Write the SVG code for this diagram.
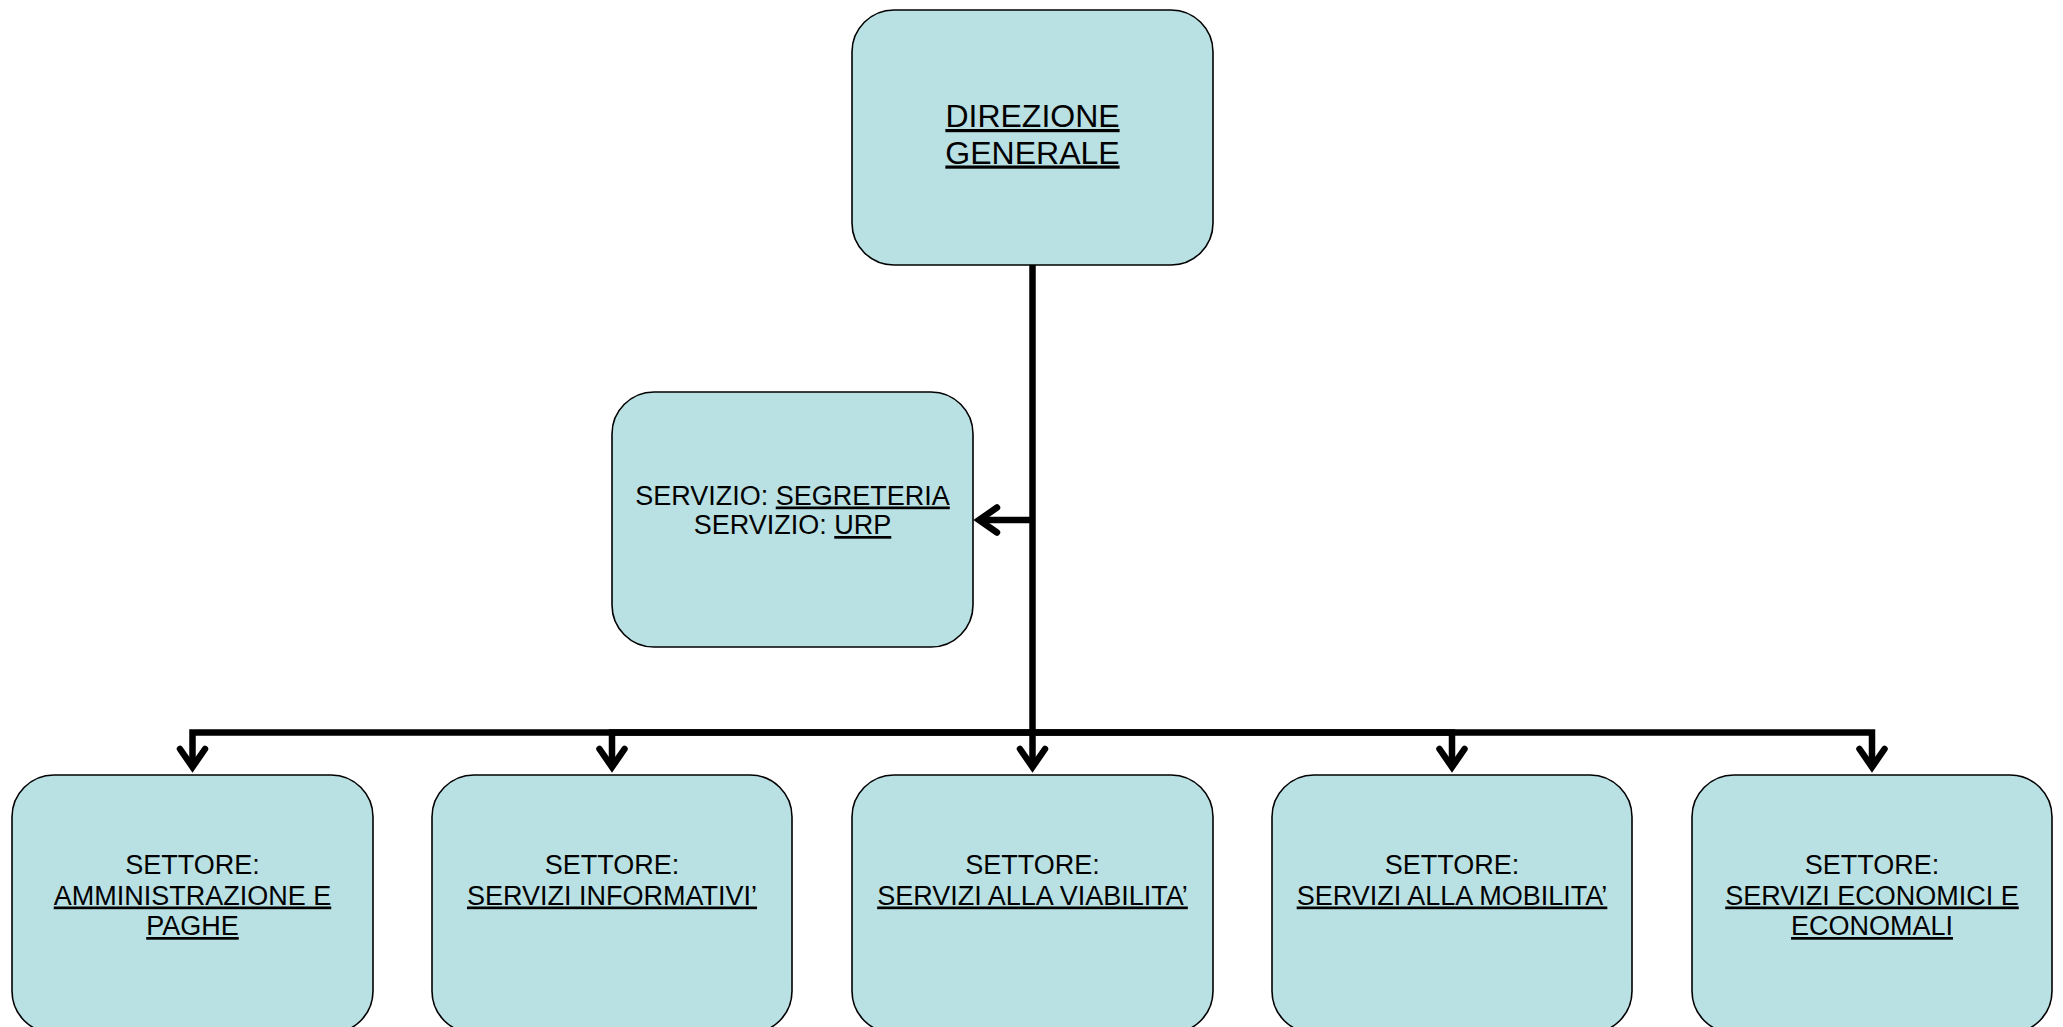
<svg xmlns="http://www.w3.org/2000/svg" width="2063" height="1027" viewBox="0 0 2063 1027">
<style>
.box{fill:#B9E0E3;stroke:#000;stroke-width:1.6}
.t{font-family:"Liberation Sans",Arial,sans-serif;font-size:27px;fill:#000;text-anchor:middle}
.big{font-size:32px}
.u{text-decoration:underline}
.c{fill:none;stroke:#000;stroke-width:6.5;stroke-linejoin:miter}
</style>
<defs>
<marker id="arr" markerUnits="userSpaceOnUse" viewBox="-25 -17 34 34" markerWidth="34" markerHeight="34" refX="0" refY="0" orient="auto" overflow="visible">
<path d="M-18 -12.5 L0 0 L-18 12.5" fill="none" stroke="#000" stroke-width="6.5" stroke-linecap="round" stroke-linejoin="miter"/>
</marker>
</defs>
<rect width="2063" height="1027" fill="#fff"/>
<g id="connectors">
<path class="c" d="M1032.5 265 V767" marker-end="url(#arr)"/>
<path class="c" d="M1032.5 732.5 H192.5 V767" marker-end="url(#arr)"/>
<path class="c" d="M1032.5 732.5 H612 V767" marker-end="url(#arr)"/>
<path class="c" d="M1032.5 732.5 H1452 V767" marker-end="url(#arr)"/>
<path class="c" d="M1032.5 732.5 H1872 V767" marker-end="url(#arr)"/>
<path class="c" d="M1032.5 520 H979" marker-end="url(#arr)"/>
</g>
<g id="direzione">
<rect class="box" x="852" y="10" width="361" height="255" rx="42" ry="42"/>
<text class="t big u" x="1032.5" y="127">DIREZIONE</text>
<text class="t big u" x="1032.5" y="163.5">GENERALE</text>
</g>
<g id="servizi">
<rect class="box" x="612" y="392" width="361" height="255" rx="42" ry="42"/>
<text class="t" x="792.5" y="504.5">SERVIZIO: <tspan class="u">SEGRETERIA</tspan></text>
<text class="t" x="792.5" y="534">SERVIZIO: <tspan class="u">URP</tspan></text>
</g>
<g id="settore-amministrazione">
<rect class="box" x="12" y="775" width="361" height="258" rx="42" ry="42"/>
<text class="t" x="192.5" y="874">SETTORE:</text>
<text class="t u" x="192.5" y="904.5">AMMINISTRAZIONE E</text>
<text class="t u" x="192.5" y="935">PAGHE</text>
</g>
<g id="settore-informativi">
<rect class="box" x="432" y="775" width="360" height="258" rx="42" ry="42"/>
<text class="t" x="612" y="874">SETTORE:</text>
<text class="t u" x="612" y="904.5">SERVIZI INFORMATIVI’</text>
</g>
<g id="settore-viabilita">
<rect class="box" x="852" y="775" width="361" height="258" rx="42" ry="42"/>
<text class="t" x="1032.5" y="874">SETTORE:</text>
<text class="t u" x="1032.5" y="904.5">SERVIZI ALLA VIABILITA’</text>
</g>
<g id="settore-mobilita">
<rect class="box" x="1272" y="775" width="360" height="258" rx="42" ry="42"/>
<text class="t" x="1452" y="874">SETTORE:</text>
<text class="t u" x="1452" y="904.5">SERVIZI ALLA MOBILITA’</text>
</g>
<g id="settore-economici">
<rect class="box" x="1692" y="775" width="360" height="258" rx="42" ry="42"/>
<text class="t" x="1872" y="874">SETTORE:</text>
<text class="t u" x="1872" y="904.5">SERVIZI ECONOMICI E</text>
<text class="t u" x="1872" y="935">ECONOMALI</text>
</g>
</svg>
